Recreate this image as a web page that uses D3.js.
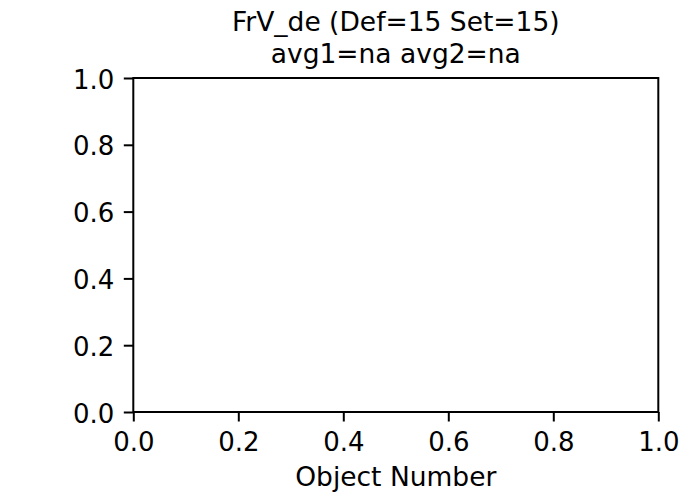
<!DOCTYPE html>
<html>
<head>
<meta charset="utf-8">
<script src="https://cdn.jsdelivr.net/npm/d3@7"></script>
<style>
  html, body { margin: 0; padding: 0; background: #fff; }
  svg { display: block; }
  text { font-family: "DejaVu Sans", sans-serif; fill: #000; }
</style>
</head>
<body>
<svg id="chart" width="682" height="492"></svg>
<script>
// Data (empty plot; default matplotlib ranges)
const titleLines = ["FrV_de (Def=15 Set=15)", "avg1=na avg2=na"];
const xLabel = "Object Number";
const xDomain = [0, 1];
const yDomain = [0, 1];
const xTicks = [0, 0.2, 0.4, 0.6, 0.8, 1.0];
const yTicks = [0, 0.2, 0.4, 0.6, 0.8, 1.0];

const W = 682, H = 492;
const margin = { left: 133.3, right: W - 658.3, top: 78, bottom: H - 412 };
const svg = d3.select("#chart");
const x = d3.scaleLinear().domain(xDomain).range([margin.left, W - margin.right]);
const y = d3.scaleLinear().domain(yDomain).range([H - margin.bottom, margin.top]);

const tickLen = 9.5, tickPad = 9.5, lw = 2;
const tickFont = 26, labelFont = 26.5, titleFont = 26.5;

// frame
svg.append("rect")
  .attr("x", x(0)).attr("y", y(1))
  .attr("width", x(1) - x(0)).attr("height", y(0) - y(1))
  .attr("fill", "none").attr("stroke", "#000").attr("stroke-width", lw);

const fmt = d3.format(".1f");

// x axis
const xAxis = d3.axisBottom(x).tickValues(xTicks).tickFormat(fmt)
  .tickSize(tickLen).tickPadding(tickPad);
const gx = svg.append("g").attr("transform", `translate(0,${y(0)})`).call(xAxis);
gx.select(".domain").remove();
gx.selectAll(".tick line").attr("stroke", "#000").attr("stroke-width", lw);
gx.selectAll(".tick text").attr("font-size", tickFont).attr("font-family", "DejaVu Sans")
  .attr("dy", null).attr("y", tickLen + tickPad + tickFont * 0.76);

// y axis
const yAxis = d3.axisLeft(y).tickValues(yTicks).tickFormat(fmt)
  .tickSize(tickLen).tickPadding(tickPad);
const gy = svg.append("g").attr("transform", `translate(${x(0)},0)`).call(yAxis);
gy.select(".domain").remove();
gy.selectAll(".tick line").attr("stroke", "#000").attr("stroke-width", lw);
gy.selectAll(".tick text").attr("font-size", tickFont).attr("font-family", "DejaVu Sans")
  .attr("dy", null).attr("y", 10);

// x label
svg.append("text")
  .attr("x", (x(0) + x(1)) / 2).attr("y", 486)
  .attr("text-anchor", "middle").attr("font-size", labelFont)
  .text(xLabel);

// title
const cx = (x(0) + x(1)) / 2;
svg.append("text").attr("x", cx).attr("y", 31)
  .attr("text-anchor", "middle").attr("font-size", titleFont).text(titleLines[0]);
svg.append("text").attr("x", cx).attr("y", 62.5)
  .attr("text-anchor", "middle").attr("font-size", titleFont).text(titleLines[1]);
</script>
</body>
</html>
